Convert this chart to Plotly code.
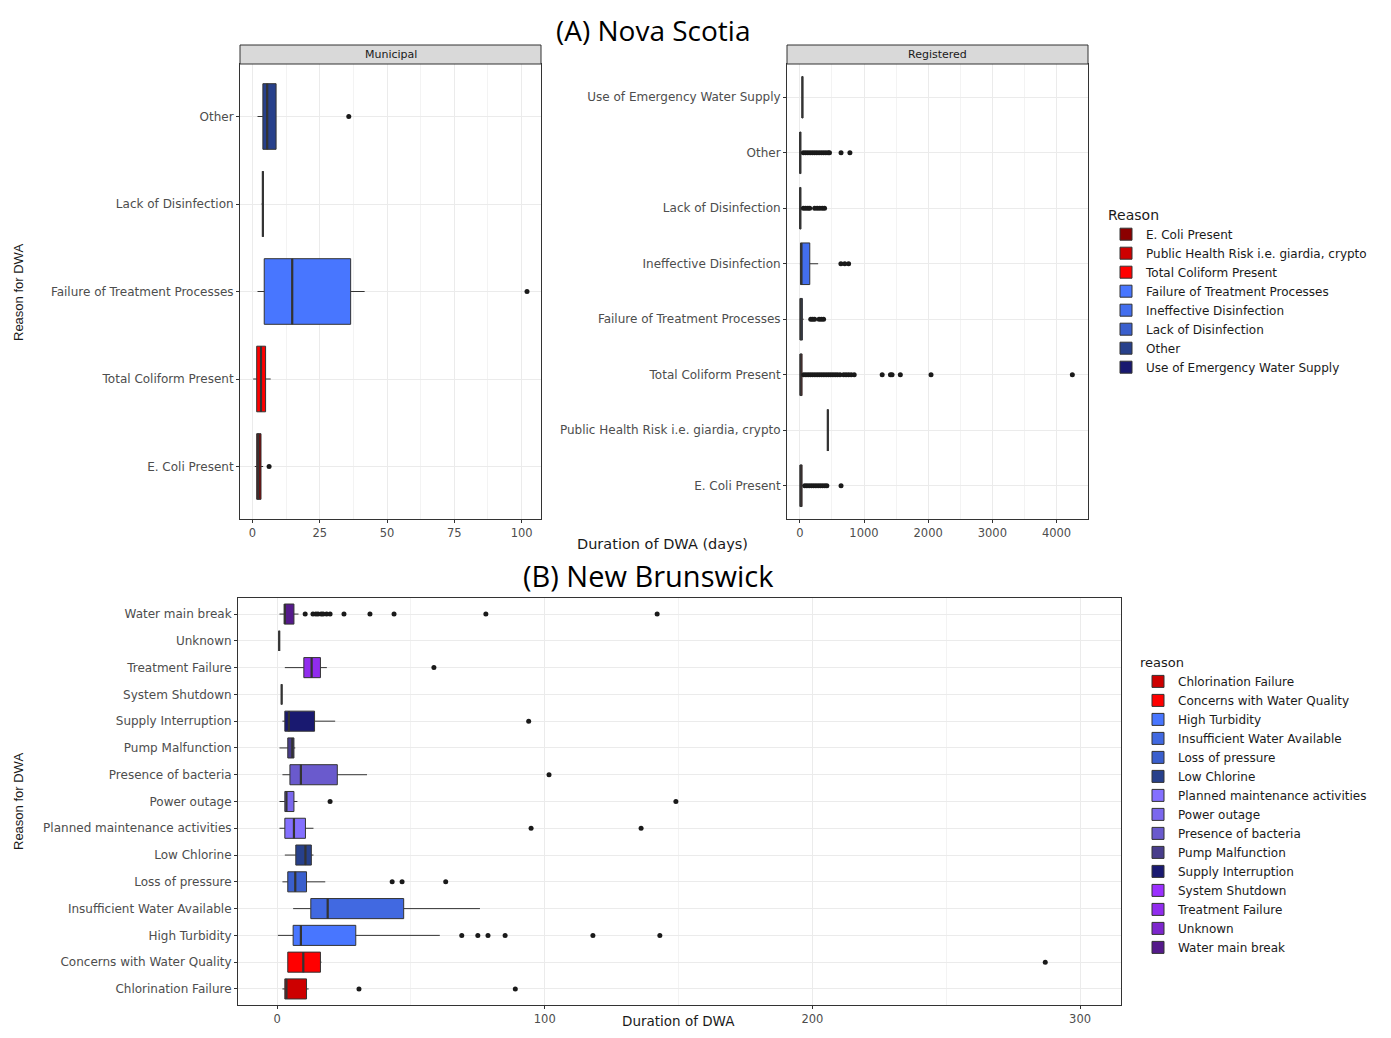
import plotly.graph_objects as go

# ---------------- (A) Nova Scotia : Municipal ----------------
mun_reasons = ["E. Coli Present", "Total Coliform Present", "Failure of Treatment Processes",
               "Lack of Disinfection", "Other"]
mun_low = [0.9, 0.3, 1.9, 3.4, 1.9]
mun_q1 = [1.6, 1.6, 4.4, 3.9, 3.9]
mun_med = [2.2, 3.2, 14.8, 3.9, 5.5]
mun_q3 = [3.2, 4.9, 36.5, 3.9, 8.8]
mun_high = [4.0, 6.8, 41.7, 3.9, 8.8]
mun_outliers = [[6.2], [], [102.0], [], [35.8]]

# ---------------- (A) Nova Scotia : Registered ----------------
reg_reasons = ["E. Coli Present", "Public Health Risk i.e. giardia, crypto", "Total Coliform Present",
               "Failure of Treatment Processes", "Ineffective Disinfection", "Lack of Disinfection",
               "Other", "Use of Emergency Water Supply"]
reg_low = [0, 436, 0, 0, 0, 0, 0, 35]
reg_q1 = [3, 436, 3, 3, 10, 1, 1, 35]
reg_med = [12, 436, 12, 14, 25, 5, 5, 40]
reg_q3 = [35, 436, 35, 40, 155, 15, 15, 45]
reg_high = [70, 436, 70, 60, 285, 40, 40, 45]
reg_outliers = [
    [77, 110, 145, 180, 215, 250, 285, 320, 355, 390, 421, 642],
    [],
    [60, 95, 130, 165, 200, 235, 270, 305, 340, 375, 410, 445, 480, 515, 550, 585, 626,
     683, 720, 760, 800, 847, 1283, 1412, 1437, 1566, 2044, 4246],
    [170, 200, 230, 300, 335, 370],
    [640, 700, 760],
    [55, 90, 125, 154, 231, 270, 310, 350, 385],
    [55, 90, 125, 160, 195, 230, 265, 300, 335, 370, 405, 440, 462, 642, 780],
    [],
]

ns_colors = {
    "E. Coli Present": "#8B0000",
    "Public Health Risk i.e. giardia, crypto": "#CD0000",
    "Total Coliform Present": "#FF0000",
    "Failure of Treatment Processes": "#4876FF",
    "Ineffective Disinfection": "#436EEE",
    "Lack of Disinfection": "#3A5FCD",
    "Other": "#27408B",
    "Use of Emergency Water Supply": "#191970",
}

# ---------------- (B) New Brunswick ----------------
nb_reasons = ["Chlorination Failure", "Concerns with Water Quality", "High Turbidity",
              "Insufficient Water Available", "Loss of pressure", "Low Chlorine",
              "Planned maintenance activities", "Power outage", "Presence of bacteria",
              "Pump Malfunction", "Supply Interruption", "System Shutdown",
              "Treatment Failure", "Unknown", "Water main break"]
nb_low = [2.0, 4.0, 0.3, 6.0, 2.0, 2.9, 0.9, 0.9, 2.0, 0.9, 2.0, 1.7, 2.9, 0.8, 0.9]
nb_q1 = [2.9, 4.0, 6.0, 12.6, 4.0, 7.0, 2.9, 2.9, 4.8, 4.0, 2.9, 1.7, 10.0, 0.8, 2.7]
nb_med = [3.5, 9.8, 8.9, 18.9, 6.8, 10.6, 6.3, 3.5, 8.9, 5.7, 4.4, 1.7, 12.9, 0.8, 2.9]
nb_q3 = [11.0, 16.2, 29.4, 47.3, 11.0, 12.8, 10.6, 6.3, 22.5, 6.3, 14.0, 1.7, 16.2, 0.8, 6.3]
nb_high = [11.8, 16.6, 60.8, 75.8, 18.0, 13.6, 13.6, 7.6, 33.6, 6.8, 21.7, 1.7, 18.6, 0.8, 8.0]
nb_outliers = [
    [30.6, 89.0],
    [287.0],
    [69.0, 75.0, 78.8, 85.2, 118.0, 143.0],
    [],
    [43.0, 46.7, 63.0],
    [],
    [94.9, 136.0],
    [19.8, 149.0],
    [101.6],
    [],
    [94.0],
    [],
    [58.6],
    [],
    [10.5, 13.4, 14.5, 15.3, 16.5, 17.2, 18.5, 19.8, 25.0, 34.7, 43.7, 78.0, 142.0],
]
nb_colors = ["#CD0000", "#FF0000", "#4876FF", "#4169E1", "#3A5FCD", "#27408B", "#8470FF",
             "#7B68EE", "#6A5ACD", "#483D8B", "#191970", "#9B30FF", "#912CEE", "#7D26CD",
             "#551A8B"]

BOX_LINE = "#333333"
PT = "#1A1A1A"

fig = go.Figure()


def add_boxes(reasons, low, q1, med, q3, high, outs, colors, xa, ya, legend, show):
    for i, r in enumerate(reasons):
        fig.add_trace(go.Box(
            y=[r], lowerfence=[low[i]], q1=[q1[i]], median=[med[i]], q3=[q3[i]],
            upperfence=[high[i]], orientation="h", name=r, fillcolor=colors[i],
            line=dict(color=BOX_LINE, width=1), whiskerwidth=0, width=0.75,
            boxpoints=False, xaxis=xa, yaxis=ya, legend=legend, showlegend=show,
            hoverinfo="skip"))
    # thicker median bars (ggplot draws the median heavier than the box outline)
    for i, r in enumerate(reasons):
        fig.add_trace(go.Box(
            y=[r], lowerfence=[med[i]], q1=[med[i]], median=[med[i]], q3=[med[i]],
            upperfence=[med[i]], orientation="h", name=r, fillcolor=BOX_LINE,
            line=dict(color=BOX_LINE, width=2.2), whiskerwidth=0, width=0.75,
            boxpoints=False, xaxis=xa, yaxis=ya, showlegend=False, hoverinfo="skip"))
    for i, r in enumerate(reasons):
        if outs[i]:
            fig.add_trace(go.Scatter(
                x=outs[i], y=[r] * len(outs[i]), mode="markers",
                marker=dict(color=PT, size=5), xaxis=xa, yaxis=ya,
                showlegend=False, hoverinfo="skip"))


add_boxes(mun_reasons, mun_low, mun_q1, mun_med, mun_q3, mun_high, mun_outliers,
          [ns_colors[r] for r in mun_reasons], "x", "y", "legend", False)
add_boxes(reg_reasons, reg_low, reg_q1, reg_med, reg_q3, reg_high, reg_outliers,
          [ns_colors[r] for r in reg_reasons], "x2", "y2", "legend", True)
add_boxes(nb_reasons, nb_low, nb_q1, nb_med, nb_q3, nb_high, nb_outliers,
          nb_colors, "x3", "y3", "legend2", True)

# page body has an 8px margin; figure fills the rest of the 1391x1038 window
OFF = 8
W, H = 1391 - 2 * OFF, 1038 - 2 * OFF


def px_x(p):
    return (p - OFF) / W


def px_y(p):
    return 1 - (p - OFF) / H


dom_mun = [px_x(240), px_x(541)]
dom_reg = [px_x(787), px_x(1088)]
dom_top = [px_y(519), px_y(64)]
dom_nbx = [px_x(238), px_x(1121)]
dom_nby = [px_y(1005), px_y(598)]

TICKFONT = dict(family="DejaVu Sans", size=11.5, color="#4D4D4D")


def xaxis(domain, anchor, rng, dtick, minor):
    return dict(domain=domain, anchor=anchor, range=rng, dtick=dtick, tick0=0,
                showgrid=True, gridcolor="#EBEBEB", gridwidth=1,
                minor=dict(dtick=minor, tick0=0, showgrid=True, gridcolor="#F3F3F3", gridwidth=1),
                showline=True, mirror=True, linecolor="#333333", linewidth=1,
                ticks="outside", ticklen=3, tickcolor="#333333", zeroline=False,
                tickfont=TICKFONT)


def yaxis(domain, anchor, cats, size):
    return dict(domain=domain, anchor=anchor, type="category", categoryorder="array",
                categoryarray=cats, range=[-0.6, len(cats) - 0.4],
                showgrid=True, gridcolor="#EBEBEB", gridwidth=1,
                showline=True, mirror=True, linecolor="#333333", linewidth=1,
                ticks="outside", ticklen=3, tickcolor="#333333", zeroline=False,
                tickfont=dict(family="DejaVu Sans", size=size, color="#4D4D4D"))


fig.update_layout(
    width=W, height=H, margin=dict(l=0, r=0, t=0, b=0),
    paper_bgcolor="white", plot_bgcolor="white", boxmode="overlay",
    xaxis=xaxis(dom_mun, "y", [-4.6, 107.2], 25, 12.5),
    yaxis=yaxis(dom_top, "x", mun_reasons, 12),
    xaxis2=xaxis(dom_reg, "y2", [-200, 4490], 1000, 500),
    yaxis2=yaxis(dom_top, "x2", reg_reasons, 12),
    xaxis3=xaxis(dom_nbx, "y3", [-14.6, 315.3], 100, 50),
    yaxis3=yaxis(dom_nby, "x3", nb_reasons, 12),
    legend=dict(x=px_x(1106), y=px_y(292), xanchor="left", yanchor="middle",
                title=dict(text="Reason", font=dict(family="DejaVu Sans", size=14, color="#1A1A1A")),
                font=dict(family="DejaVu Sans", size=12, color="#1A1A1A"),
                traceorder="normal", itemwidth=30, bgcolor="rgba(0,0,0,0)"),
    legend2=dict(x=px_x(1138), y=px_y(806), xanchor="left", yanchor="middle",
                 title=dict(text="reason", font=dict(family="DejaVu Sans", size=13, color="#1A1A1A")),
                 font=dict(family="DejaVu Sans", size=12, color="#1A1A1A"),
                 traceorder="normal", itemwidth=30, bgcolor="rgba(0,0,0,0)"),
)

# facet strips
for dom, label_text in [(dom_mun, "Municipal"), (dom_reg, "Registered")]:
    fig.add_shape(type="rect", xref="paper", yref="paper", x0=dom[0], x1=dom[1],
                  y0=dom_top[1], y1=px_y(45), fillcolor="#D9D9D9",
                  line=dict(color="#333333", width=1), layer="above")
    fig.add_annotation(xref="paper", yref="paper", x=(dom[0] + dom[1]) / 2,
                       y=(dom_top[1] + px_y(45)) / 2, text=label_text, showarrow=False,
                       xanchor="center", yanchor="middle",
                       font=dict(family="DejaVu Sans", size=11, color="#1A1A1A"))


def label(x, y, text, font, angle=0):
    fig.add_annotation(xref="paper", yref="paper", x=px_x(x), y=px_y(y), text=text,
                       showarrow=False, xanchor="center", yanchor="middle",
                       textangle=angle, font=font)


label(653, 30, "(A) Nova Scotia", dict(family="Open Sans, sans-serif", size=28, color="#000000"))
label(648, 575, "(B) New Brunswick", dict(family="Open Sans, sans-serif", size=29, color="#000000"))

AXFONT = dict(family="DejaVu Sans", size=14.5, color="#1A1A1A")
label(662, 544, "Duration of DWA (days)", AXFONT)
label(678, 1021, "Duration of DWA", dict(family="DejaVu Sans", size=13.5, color="#1A1A1A"))
YTFONT = dict(family="Liberation Sans, sans-serif", size=13, color="#1A1A1A")
label(18, 293, "Reason for DWA", YTFONT, -90)
label(18, 802, "Reason for DWA", YTFONT, -90)

fig.write_html("out.html")
